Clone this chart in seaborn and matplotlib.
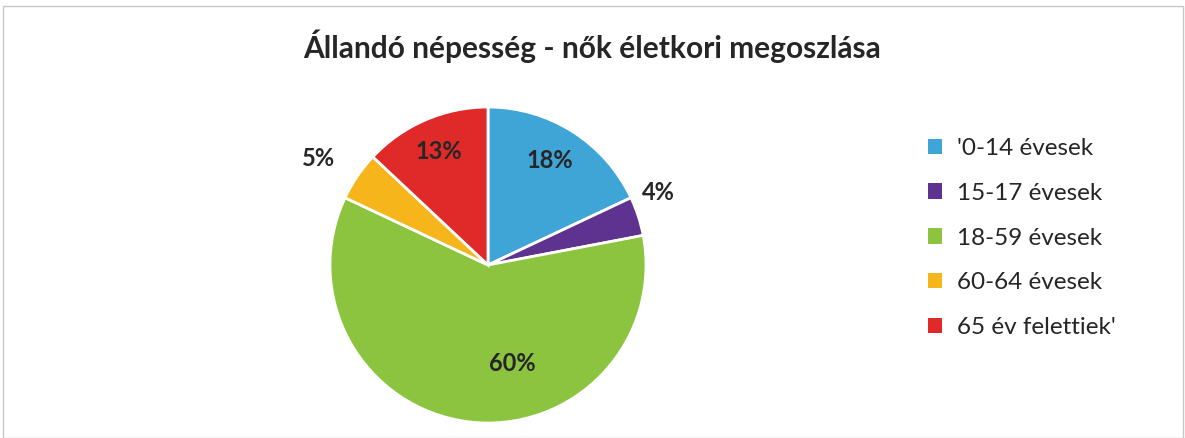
import matplotlib
matplotlib.use("Agg")
import matplotlib.pyplot as plt
import seaborn as sns
import numpy as np
from matplotlib.patches import Patch, Rectangle

categories = ["'0-14 évesek", "15-17 évesek", "18-59 évesek", "60-64 évesek", "65 év felettiek'"]
values = [18, 4, 60, 5, 13]
title = "Állandó népesség - nők életkori megoszlása"

colors = ["#3FA4D6", "#5E338F", "#8CC43F", "#F6B51B", "#DF2A29"]
# label placement: (radial distance, angular offset in degrees)
label_place = [(0.77, 2), (1.17, 5), (0.64, 21), (1.27, 2), (0.78, 0)]

sns.set_theme(style="white")
plt.rcParams['font.family'] = ['Lato', 'DejaVu Sans']

W, H = 1185, 438
fig = plt.figure(figsize=(W / 100, H / 100), dpi=100)
fig.patch.set_facecolor("white")

cx, cy, r = 488, 265, 158
ax = fig.add_axes([(cx - r) / W, (H - cy - r) / H, 2 * r / W, 2 * r / H])
wedges, _ = ax.pie(values, colors=colors, startangle=90, counterclock=False,
                   radius=1, wedgeprops=dict(edgecolor="white", linewidth=2))
ax.set_xlim(-1, 1)
ax.set_ylim(-1, 1)
ax.set_aspect("equal")
ax.axis("off")

total = sum(values)
for w, v, (rd, off) in zip(wedges, values, label_place):
    mid = np.deg2rad((w.theta1 + w.theta2) / 2 + off)
    ax.text(rd * np.cos(mid), rd * np.sin(mid), f"{round(100 * v / total)}%",
            ha="center", va="center", fontsize=17, fontweight="bold",
            color="#262626", clip_on=False)

fig.text(592 / W, 1 - 46 / H, title, ha="center", va="center",
         fontsize=21.5, fontweight="bold", color="#262626")

handles = [Patch(facecolor=c, edgecolor="none") for c in colors]
leg = fig.legend(handles, categories, loc="upper left",
                 bbox_to_anchor=(906 / W, 1 - 116 / H), frameon=False,
                 fontsize=17.5, handlelength=0.6, handleheight=0.6,
                 handletextpad=0.6, labelspacing=0.98)
for t in leg.get_texts():
    t.set_color("#262626")

fig.patches.append(Rectangle((3 / W, 0), 1 - 5 / W, 1 - 6 / H,
                             transform=fig.transFigure, fill=False,
                             edgecolor="#c8c8c8", linewidth=1))

fig.savefig("out.png", dpi=100, facecolor="white")
